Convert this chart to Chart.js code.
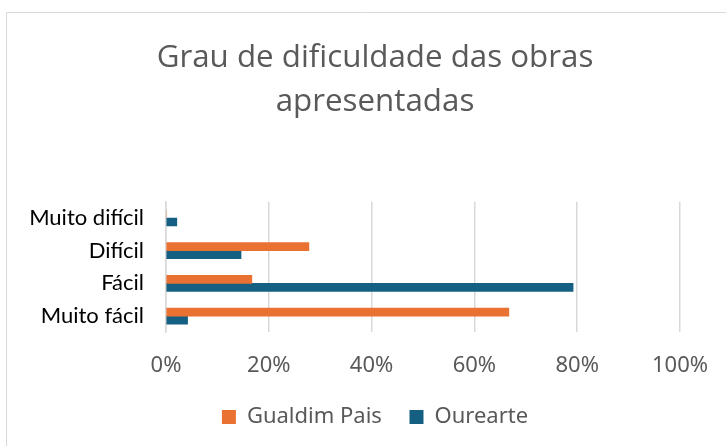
<!DOCTYPE html>
<html>
<head>
<meta charset="utf-8">
<script src="https://cdn.jsdelivr.net/npm/chart.js@4"></script>
<style>
    html, body {
        margin: 0;
        padding: 0;
        background: #ffffff;
    }
    #wrap {
        position: relative;
        width: 726px;
        height: 446px;
    }
</style>
</head>
<body>
<div id="wrap"><canvas id="grauChart" width="726" height="446"></canvas></div>
<script>
// ############ data ############
const categories = ["Muito difícil", "Difícil", "Fácil", "Muito fácil"];
const gualdimPais = [0, 27.8, 16.7, 66.7];
const ourearte = [2.1, 14.6, 79.2, 4.2];
const seriesNames = ["Gualdim Pais", "Ourearte"];
const xTicks = [0, 20, 40, 60, 80, 100];

// left + top frame of the chart area (the picture is cropped on the right/bottom)
const framePlugin = {
    id: "frame",
    beforeDraw(chart) {
        const ctx = chart.ctx;
        ctx.save();
        ctx.strokeStyle = "#d9d9d9";
        ctx.lineWidth = 1;
        ctx.beginPath();
        ctx.moveTo(6.5, chart.height);
        ctx.lineTo(6.5, 12.5);
        ctx.lineTo(chart.width, 12.5);
        ctx.stroke();
        ctx.restore();
    },
};

document.addEventListener("DOMContentLoaded", function () {
    const ctx = document.getElementById("grauChart").getContext("2d");

    new Chart(ctx, {
        type: "bar",
        data: {
            labels: categories,
            datasets: [
                {
                    label: seriesNames[0],
                    data: gualdimPais,
                    backgroundColor: "#e97132",
                    barThickness: 8,
                },
                {
                    label: seriesNames[1],
                    data: ourearte,
                    backgroundColor: "#156082",
                    barThickness: 8,
                },
            ],
        },
        options: {
            indexAxis: "y",
            responsive: false,
            animation: false,
            layout: {
                padding: { left: 26, right: 2, top: 0, bottom: 8 },
            },
            plugins: {
                title: {
                    display: true,
                    text: ["Grau de dificuldade das obras", "apresentadas"],
                    color: "#595959",
                    font: { family: "Open Sans", size: 31.3, weight: "normal", lineHeight: 1.4 },
                    padding: { top: 36, bottom: 78 },
                },
                legend: {
                    position: "bottom",
                    labels: {
                        color: "#595959",
                        font: { family: "Noto Sans", size: 22 },
                        boxWidth: 14,
                        boxHeight: 14,
                        padding: 27.6,
                    },
                },
                tooltip: { enabled: false },
            },
            scales: {
                x: {
                    min: 0,
                    max: 100,
                    afterBuildTicks: function (axis) {
                        axis.ticks = xTicks.map(function (v) { return { value: v }; });
                    },
                    afterFit: function (axis) {
                        axis.paddingRight = 46; // keep 100% gridline where the picture has it
                        axis.height = 46; // no extra space under the labels
                    },
                    ticks: {
                        callback: function (value) {
                            return value + "%";
                        },
                        color: "#595959",
                        font: { family: "Noto Sans", size: 22 },
                        padding: 20,
                        maxRotation: 0,
                    },
                    grid: {
                        color: "#d9d9d9",
                        lineWidth: 1.5,
                        drawTicks: false,
                    },
                    border: { display: false },
                },
                y: {
                    afterFit: function (axis) {
                        axis.width = 140;
                    },
                    ticks: {
                        color: "#000000",
                        font: { family: "Lato", size: 22 },
                        padding: 22,
                        autoSkip: false,
                    },
                    grid: { display: false, drawTicks: false },
                    border: { display: true, color: "#d9d9d9", width: 1.5 },
                },
            },
        },
        plugins: [framePlugin],
    });
});
</script>
</body>
</html>
